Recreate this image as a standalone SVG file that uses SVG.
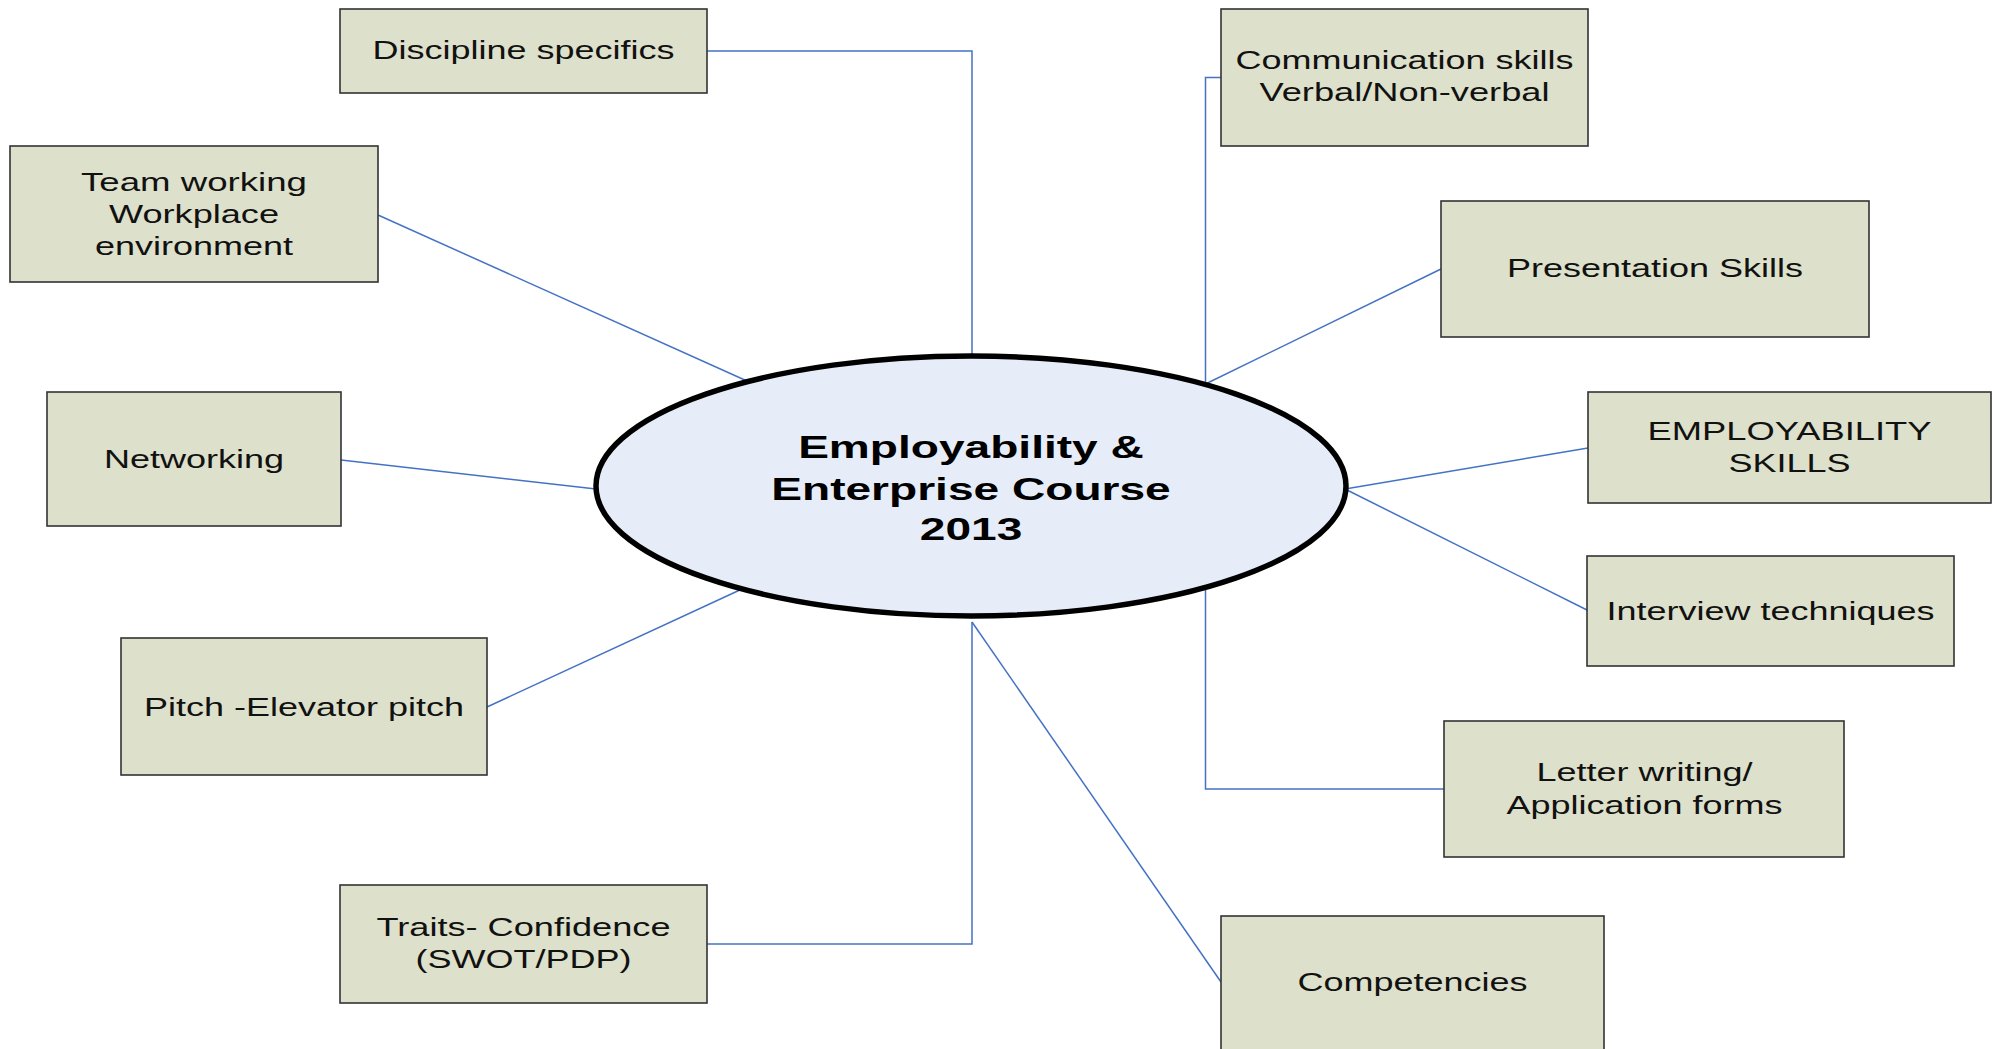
<svg xmlns="http://www.w3.org/2000/svg" width="1997" height="1049" viewBox="0 0 1997 1049">
<style>
.box{fill:#dde0ca;stroke:#333333;stroke-width:1.6}
.lbl{font-family:"Liberation Sans",Arial,sans-serif;font-size:25px;fill:#111111;text-anchor:middle}
.ttl{font-family:"Liberation Sans",Arial,sans-serif;font-size:32px;font-weight:bold;fill:#000000;text-anchor:middle}
.con{fill:none;stroke:#4472c4;stroke-width:1.5}
</style>
<rect width="1997" height="1049" fill="#ffffff"/>
<g id="connectors">
<polyline class="con" points="707,51 972,51 972,356"/>
<line class="con" x1="378" y1="215" x2="747" y2="381"/>
<line class="con" x1="341" y1="460" x2="596" y2="489"/>
<line class="con" x1="487" y1="707" x2="742" y2="589"/>
<polyline class="con" points="707,944 972,944 972,622"/>
<line class="con" x1="972" y1="622" x2="1221" y2="982"/>
<polyline class="con" points="1221,77.5 1205.5,77.5 1205.5,384"/>
<line class="con" x1="1441" y1="269" x2="1205.5" y2="384"/>
<line class="con" x1="1588" y1="448" x2="1345" y2="489"/>
<line class="con" x1="1345" y1="489" x2="1587" y2="610"/>
<polyline class="con" points="1444,789 1205.5,789 1205.5,590"/>
</g>
<g id="center">
<ellipse cx="971" cy="486" rx="375" ry="130" fill="#e6edf8" stroke="#000000" stroke-width="5.5"/>
<text class="ttl" x="971" y="458" textLength="345.7" lengthAdjust="spacingAndGlyphs">Employability &amp;</text>
<text class="ttl" x="971" y="499.5" textLength="399.5" lengthAdjust="spacingAndGlyphs">Enterprise Course</text>
<text class="ttl" x="971" y="540" textLength="102.5" lengthAdjust="spacingAndGlyphs">2013</text>
</g>
<g id="discipline">
<rect class="box" x="340" y="9" width="367" height="84"/>
<text class="lbl" x="523.5" y="59" textLength="302" lengthAdjust="spacingAndGlyphs">Discipline specifics</text>
</g>
<g id="team">
<rect class="box" x="10" y="146" width="368" height="136"/>
<text class="lbl" x="194" y="191" textLength="226" lengthAdjust="spacingAndGlyphs">Team working</text>
<text class="lbl" x="194" y="223" textLength="170" lengthAdjust="spacingAndGlyphs">Workplace</text>
<text class="lbl" x="194" y="255" textLength="198" lengthAdjust="spacingAndGlyphs">environment</text>
</g>
<g id="networking">
<rect class="box" x="47" y="392" width="294" height="134"/>
<text class="lbl" x="194" y="468" textLength="180" lengthAdjust="spacingAndGlyphs">Networking</text>
</g>
<g id="pitch">
<rect class="box" x="121" y="638" width="366" height="137"/>
<text class="lbl" x="304" y="715.5" textLength="320" lengthAdjust="spacingAndGlyphs">Pitch -Elevator pitch</text>
</g>
<g id="traits">
<rect class="box" x="340" y="885" width="367" height="118"/>
<text class="lbl" x="523.5" y="936" textLength="294" lengthAdjust="spacingAndGlyphs">Traits- Confidence</text>
<text class="lbl" x="523.5" y="968" textLength="216" lengthAdjust="spacingAndGlyphs">(SWOT/PDP)</text>
</g>
<g id="communication">
<rect class="box" x="1221" y="9" width="367" height="137"/>
<text class="lbl" x="1404.5" y="69" textLength="338" lengthAdjust="spacingAndGlyphs">Communication skills</text>
<text class="lbl" x="1404.5" y="101" textLength="290" lengthAdjust="spacingAndGlyphs">Verbal/Non-verbal</text>
</g>
<g id="presentation">
<rect class="box" x="1441" y="201" width="428" height="136"/>
<text class="lbl" x="1655" y="277" textLength="296" lengthAdjust="spacingAndGlyphs">Presentation Skills</text>
</g>
<g id="employability">
<rect class="box" x="1588" y="392" width="403" height="111"/>
<text class="lbl" x="1789.5" y="440" textLength="284" lengthAdjust="spacingAndGlyphs">EMPLOYABILITY</text>
<text class="lbl" x="1789.5" y="472" textLength="122" lengthAdjust="spacingAndGlyphs">SKILLS</text>
</g>
<g id="interview">
<rect class="box" x="1587" y="556" width="367" height="110"/>
<text class="lbl" x="1770.5" y="620" textLength="328" lengthAdjust="spacingAndGlyphs">Interview techniques</text>
</g>
<g id="letter">
<rect class="box" x="1444" y="721" width="400" height="136"/>
<text class="lbl" x="1644.5" y="781" textLength="216" lengthAdjust="spacingAndGlyphs">Letter writing/</text>
<text class="lbl" x="1644.5" y="814" textLength="276" lengthAdjust="spacingAndGlyphs">Application forms</text>
</g>
<g id="competencies">
<rect class="box" x="1221" y="916" width="383" height="140"/>
<text class="lbl" x="1412.5" y="991" textLength="230" lengthAdjust="spacingAndGlyphs">Competencies</text>
</g>
</svg>
